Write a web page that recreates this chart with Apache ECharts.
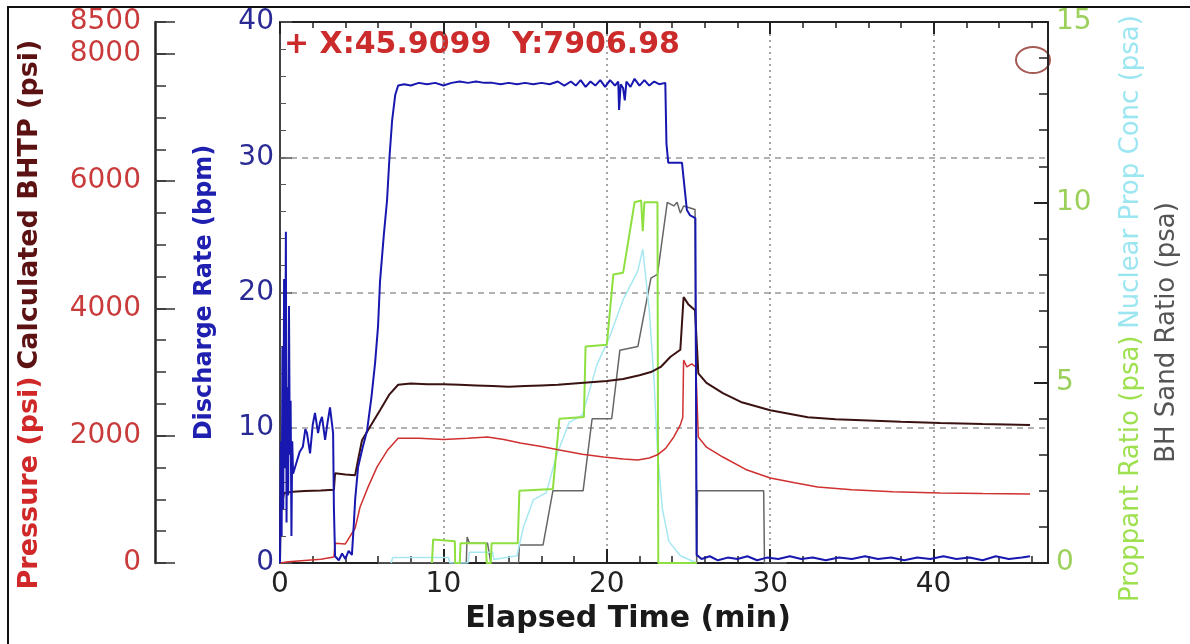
<!DOCTYPE html>
<html>
<head>
<meta charset="utf-8">
<script src="https://cdn.jsdelivr.net/npm/echarts@6/dist/echarts.min.js"></script>
<style>
  html, body { margin: 0; padding: 0; background: #fff; }
  #chart { width: 1190px; height: 644px; }
</style>
</head>
<body>
<div id="chart"></div>
<script>
// values, [elapsed time (min), value]
const rateData = [
  [0, 0], [0.05, 9], [0.1, 2], [0.15, 16], [0.2, 4], [0.25, 21], [0.3, 7], [0.36, 24.5], [0.4, 3],
  [0.45, 13], [0.5, 5], [0.55, 19], [0.6, 8], [0.65, 12], [0.7, 2], [0.75, 9], [0.8, 6.6],
  [1.0, 7.4], [1.2, 8.2], [1.4, 8.6], [1.55, 9.9], [1.65, 9.6], [1.84, 8.1], [2.0, 10.2],
  [2.14, 11.1], [2.33, 9.6], [2.45, 10.4], [2.57, 10.8], [2.76, 9.1], [2.9, 10.3], [3.06, 11.5],
  [3.25, 9.6], [3.3, 4], [3.37, 0.5], [3.6, 0.2], [3.8, 0.7], [4.0, 0.3], [4.2, 0.9], [4.4, 0.6],
  [4.5, 2.5], [4.6, 4.7], [4.78, 7.1], [5.05, 8.5], [5.33, 9.8], [5.6, 12.3], [5.82, 14.8],
  [6.0, 17.5], [6.12, 20.8], [6.35, 24.2], [6.55, 26.8], [6.7, 30], [6.86, 32.7], [7.05, 34.6],
  [7.23, 35.3], [7.6, 35.4], [8, 35.3], [8.5, 35.5], [9, 35.4], [9.5, 35.5], [10, 35.3],
  [10.5, 35.5], [11, 35.6], [11.5, 35.5], [12, 35.6], [12.5, 35.5], [13, 35.5], [13.5, 35.4],
  [14, 35.5], [14.5, 35.4], [15, 35.5], [15.5, 35.4], [16, 35.5], [16.5, 35.4], [17, 35.6],
  [17.4, 35.3], [17.8, 35.6], [18.1, 35.3], [18.4, 35.7], [18.7, 35.2], [19, 35.6], [19.3, 35.3],
  [19.6, 35.7], [19.9, 35.2], [20.2, 35.7], [20.5, 35.3], [20.7, 35.6], [20.75, 33.5], [20.85, 35.4],
  [21.0, 35.1], [21.1, 34.2], [21.2, 35.6], [21.45, 35.2], [21.7, 35.8], [22.0, 35.3], [22.3, 35.7],
  [22.6, 35.3], [22.9, 35.6], [23.2, 35.4], [23.58, 35.5], [23.65, 31], [23.76, 29.6], [24.6, 29.6],
  [24.9, 26.1], [25.1, 25.7], [25.42, 25.5], [25.5, 0.6], [25.8, 0.3], [26.3, 0.5], [26.8, 0.2],
  [27.4, 0.4], [28, 0.3], [28.6, 0.5], [29.2, 0.2], [29.8, 0.4], [30.5, 0.3], [31.2, 0.5],
  [31.9, 0.3], [32.6, 0.4], [33.4, 0.2], [34.2, 0.4], [35, 0.3], [35.8, 0.5], [36.6, 0.3],
  [37.4, 0.4], [38.2, 0.2], [39, 0.4], [39.8, 0.3], [40.6, 0.5], [41.4, 0.3], [42.2, 0.4],
  [43, 0.2], [43.8, 0.5], [44.6, 0.3], [45.4, 0.4], [45.9, 0.5]
]

const bhtpData = [
  [0, 0], [0.05, 1100], [0.15, 980], [0.25, 1100], [0.8, 1120], [1.5, 1130], [2.5, 1140],
  [3.3, 1150], [3.37, 1410], [4.0, 1390], [4.6, 1380], [4.8, 1650], [5.02, 1930], [5.51, 2140],
  [6.12, 2400], [6.7, 2650], [7.23, 2800], [8, 2820], [9, 2810], [10, 2810], [11, 2800],
  [12, 2790], [13, 2780], [14, 2770], [15, 2780], [16, 2790], [17, 2800], [18, 2820], [19, 2840],
  [20, 2860], [21, 2890], [22, 2950], [22.7, 3000], [23.3, 3080], [23.9, 3240], [24.5, 3350],
  [24.62, 3360], [24.7, 4180], [25.0, 4060], [25.4, 3970], [25.6, 2980], [26.1, 2830],
  [27.1, 2670], [28.2, 2530], [30, 2400], [32.3, 2290], [34, 2260], [36, 2240], [38, 2220],
  [40.4, 2200], [43, 2185], [45.9, 2170]
]

const pressureData = [
  [0, 0], [0.5, 20], [1.5, 40], [2.5, 60], [3.3, 95], [3.37, 310], [4.0, 300], [4.6, 550],
  [4.9, 880], [5.4, 1200], [5.94, 1510], [6.6, 1780], [7.23, 1960], [8.5, 1960], [10, 1940],
  [11.5, 1960], [12.7, 1980], [13.7, 1940], [14.7, 1885], [16, 1830], [17.1, 1775], [18.5, 1710],
  [19.8, 1665], [21, 1635], [21.9, 1620], [22.6, 1650], [23.1, 1700], [23.6, 1800], [24.1, 1980],
  [24.5, 2170], [24.65, 2290], [24.7, 3190], [24.9, 3080], [25.2, 3130], [25.45, 3080],
  [25.6, 1980], [26.1, 1820], [27.1, 1665], [28.5, 1470], [30, 1335], [31.5, 1260], [32.9, 1195],
  [35, 1150], [37.5, 1120], [40.4, 1100], [43, 1090], [45.9, 1085]
]

const proppantData = [
  [9.3, 0], [9.37, 0.65], [10.7, 0.6], [10.72, 0], [11.0, 0], [11.05, 0.55], [12.6, 0.55],
  [12.65, 0], [12.9, 0], [12.95, 0.55], [14.55, 0.55], [14.65, 2.0], [16.7, 2.05], [17.1, 4.0],
  [18.6, 4.05], [18.7, 6.0], [20.0, 6.05], [20.4, 8.0], [21.0, 8.05], [21.7, 10.0], [22.1, 10.05],
  [22.2, 9.2], [22.3, 10.0], [23.1, 10.0], [23.15, 0], [25.5, 0]
]

const nuclearData = [
  [6.8, 0], [6.9, 0.15], [10.3, 0.15], [10.4, 0], [11.5, 0], [11.6, 0.3], [13, 0.3], [13.1, 0.1],
  [14.5, 0.2], [14.9, 1.0], [15.5, 1.75], [16.3, 1.95], [16.9, 2.95], [17.7, 3.9], [18.5, 4.1],
  [19.4, 5.5], [20.2, 6.3], [21.0, 7.3], [21.9, 8.1], [22.2, 8.7], [22.6, 7.0], [22.9, 5.0],
  [23.1, 3.1], [23.4, 1.5], [23.8, 0.6], [24.5, 0.2], [25.5, 0]
]

const sandData = [
  [6, 0], [11.4, 0], [11.45, 0.72], [11.6, 0.55], [12.7, 0.55], [12.9, 0], [14.6, 0],
  [14.65, 0.5], [16.1, 0.5], [16.7, 2.0], [18.55, 2.0], [19.1, 4.0], [20.3, 4.0], [20.8, 5.9],
  [21.9, 6.0], [22.7, 7.9], [23.1, 8.0], [23.7, 10.0], [24.1, 9.9], [24.3, 10.0], [24.5, 9.7],
  [24.7, 9.9], [25.4, 9.8], [25.5, 0], [25.55, 2.0], [29.6, 2.0], [29.65, 0], [31, 0]
]

const FONT = '"DejaVu Sans", "Liberation Sans", sans-serif'

const chart = echarts.init(document.getElementById('chart'))

function lineSeries(name, data, yAxisIndex, color, width, z) {
  return {
    name: name,
    type: 'line',
    data: data,
    yAxisIndex: yAxisIndex,
    showSymbol: false,
    animation: false,
    z: z,
    lineStyle: { color: color, width: width },
    itemStyle: { color: color }
  }
}

const option = {
  backgroundColor: '#fff',
  animation: false,
  grid: { left: 280, right: 142, top: 22, bottom: 81, show: false },
  xAxis: [
    {
      type: 'value',
      position: 'bottom',
      min: 0,
      max: 47,
      interval: 10,
      axisLine: { onZero: false, lineStyle: { color: '#222', width: 2 } },
      axisTick: { inside: true, length: 14, lineStyle: { color: '#222', width: 2 } },
      axisLabel: {
        margin: 8,
        color: '#222',
        fontSize: 28,
        fontFamily: FONT,
        formatter: function (v) { return v > 46 ? '' : v }
      },
      splitLine: { show: true, lineStyle: { type: [2, 4], color: '#888', width: 1.5 } },
      name: 'Elapsed Time (min)',
      nameLocation: 'middle',
      nameGap: 38,
      nameTextStyle: {
        color: '#1a1a1a',
        fontSize: 30,
        fontWeight: 'bold',
        fontFamily: FONT,
        padding: [0, 72, 0, 0]
      }
    },
    {
      type: 'value',
      position: 'top',
      min: 0,
      max: 47,
      interval: 10,
      axisLine: { onZero: false, lineStyle: { color: '#222', width: 2 } },
      axisTick: { inside: true, length: 12, lineStyle: { color: '#222', width: 2 } },
      axisLabel: { show: false },
      splitLine: { show: false }
    },
    {
      type: 'value',
      position: 'bottom',
      min: 0,
      max: 47,
      interval: 2,
      axisLine: { show: false, onZero: false },
      axisTick: { inside: true, length: 7, lineStyle: { color: '#222', width: 1.5 } },
      axisLabel: { show: false },
      splitLine: { show: false }
    },
    {
      type: 'value',
      position: 'top',
      min: 0,
      max: 47,
      interval: 2,
      axisLine: { show: false, onZero: false },
      axisTick: { inside: true, length: 6, lineStyle: { color: '#222', width: 1.5 } },
      axisLabel: { show: false },
      splitLine: { show: false }
    }
  ],
  yAxis: [
    {
      // pressure / BHTP
      type: 'value',
      position: 'left',
      offset: 125,
      min: 0,
      max: 8500,
      interval: 500,
      axisLine: { show: true, onZero: false, lineStyle: { color: '#222', width: 2.5 } },
      axisTick: { show: true, inside: true, length: 11, lineStyle: { color: '#333', width: 1.5 } },
      axisLabel: {
        margin: 14,
        color: '#c93a3a',
        fontSize: 28,
        fontFamily: FONT,
        formatter: function (v) { return (v % 2000 === 0 || v === 8500) ? v : '' }
      },
      splitLine: { show: false },
      name: '{p|Pressure (psi)}  {c|Calculated BHTP (psi)}',
      nameLocation: 'middle',
      nameGap: 112,
      nameTextStyle: {
        padding: [0, 44, 0, 0],
        rich: {
          p: { color: '#d02828', fontSize: 27, fontWeight: 'bold', fontFamily: FONT },
          c: { color: '#5c1212', fontSize: 27, fontWeight: 'bold', fontFamily: FONT }
        }
      }
    },
    {
      // discharge rate
      type: 'value',
      position: 'left',
      offset: 0,
      min: 0,
      max: 40,
      interval: 10,
      axisLine: { show: true, onZero: false, lineStyle: { color: '#444', width: 2 } },
      axisTick: { show: true, inside: true, length: 12, lineStyle: { color: '#555', width: 1.5 } },
      minorTick: { show: true, splitNumber: 5, length: 6, lineStyle: { color: '#555', width: 1 } },
      axisLabel: { margin: 6, color: '#2a2a95', fontSize: 28, fontFamily: FONT },
      splitLine: { show: true, lineStyle: { type: [6, 5], color: '#999', width: 1.5 } },
      name: 'Discharge Rate (bpm)',
      nameLocation: 'middle',
      nameGap: 63,
      nameTextStyle: { color: '#2020b0', fontSize: 24, fontWeight: 'bold', fontFamily: FONT }
    },
    {
      // proppant / nuclear prop conc / BH sand ratio
      type: 'value',
      position: 'right',
      offset: 0,
      min: 0,
      max: 15,
      interval: 5,
      axisLine: { show: true, onZero: false, lineStyle: { color: '#222', width: 2 } },
      axisTick: { show: true, inside: true, length: 14, lineStyle: { color: '#222', width: 2 } },
      minorTick: { show: true, splitNumber: 5, length: 9, lineStyle: { color: '#222', width: 1.5 } },
      axisLabel: { margin: 8, color: '#9bd05a', fontSize: 28, fontFamily: FONT },
      splitLine: { show: false },
      name: '{g|Proppant Ratio (psa)}  {c|Nuclear Prop Conc (psa)}',
      nameLocation: 'middle',
      nameGap: 70,
      nameTextStyle: {
        padding: [0, 32, 0, 0],
        rich: {
          g: { color: '#9ee04f', fontSize: 26, fontFamily: FONT },
          c: { color: '#9be6f0', fontSize: 26, fontFamily: FONT }
        }
      }
    },
    {
      type: 'value',
      position: 'right',
      offset: 0,
      min: 0,
      max: 15,
      axisLine: { show: false, onZero: false },
      axisTick: { show: false },
      axisLabel: { show: false },
      splitLine: { show: false },
      name: 'BH Sand Ratio (psa)',
      nameLocation: 'middle',
      nameGap: 106,
      nameTextStyle: {
        color: '#555',
        fontSize: 26,
        fontFamily: FONT,
        padding: [0, 80, 0, 0]
      }
    },
    {
      // long ticks of the pressure axis
      type: 'value',
      position: 'left',
      offset: 125,
      min: 0,
      max: 8500,
      interval: 2000,
      axisLine: { show: false, onZero: false },
      axisTick: { show: true, inside: true, length: 20, lineStyle: { color: '#333', width: 1.5 } },
      axisLabel: { show: false },
      splitLine: { show: false }
    }
  ],
  series: [
    lineSeries('BH Sand Ratio', sandData, 2, '#666', 1.5, 2),
    lineSeries('Nuclear Prop Conc', nuclearData, 2, '#a6e8f2', 1.5, 3),
    lineSeries('Proppant Ratio', proppantData, 2, '#8ee040', 2, 4),
    lineSeries('Pressure', pressureData, 0, '#d03030', 1.5, 5),
    lineSeries('Calculated BHTP', bhtpData, 0, '#3a1212', 2, 6),
    lineSeries('Discharge Rate', rateData, 1, '#1818b0', 2, 7)
  ],
  graphic: [
    {
      type: 'rect',
      silent: true,
      shape: { x: 8, y: 7, width: 1200, height: 700 },
      style: { fill: 'none', stroke: '#111', lineWidth: 2 }
    },
    {
      type: 'text',
      silent: true,
      x: 284,
      y: 45,
      style: {
        text: '+ X:45.9099  Y:7906.98',
        fill: '#cc2b2b',
        font: 'bold 30px "DejaVu Sans"',
        verticalAlign: 'middle'
      }
    },
    {
      type: 'ellipse',
      silent: true,
      shape: { cx: 1033, cy: 60, rx: 17, ry: 13 },
      style: { fill: 'none', stroke: '#a55a55', lineWidth: 2 }
    }
  ]
}

chart.setOption(option)
</script>
</body>
</html>
